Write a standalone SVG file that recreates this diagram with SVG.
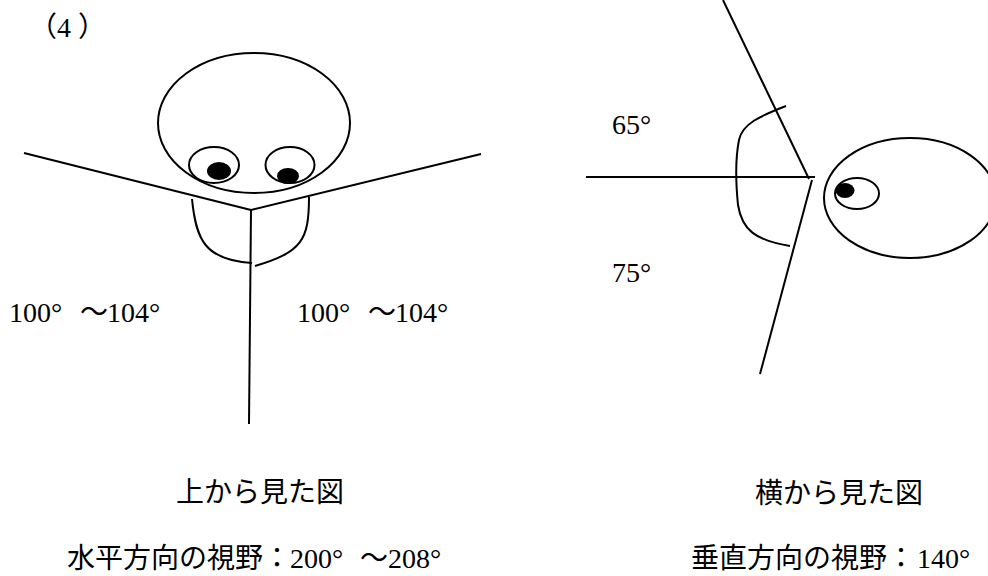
<svg xmlns="http://www.w3.org/2000/svg" width="988" height="576" viewBox="0 0 988 576">
  <style>
    .ln { fill: none; stroke: #000; stroke-width: 2; stroke-linecap: butt; }
    .dot { fill: #000; stroke: none; }
    .num { font-family: "Liberation Serif", "Noto Sans CJK JP", serif; font-size: 28px; fill: #000; }
    .jp { font-family: "Noto Sans CJK JP", "Liberation Serif", sans-serif; font-size: 28px; fill: #000; }
    .lat { font-family: "Liberation Serif", serif; }
  </style>
  <rect width="988" height="576" fill="#fff"/>

  <text class="num" y="37" font-size="25"><tspan x="29">（</tspan><tspan x="57">4</tspan><tspan x="78">）</tspan></text>

  <!-- view from above -->
  <g id="top-view">
    <g id="top-head">
      <ellipse class="ln" cx="254" cy="123" rx="96" ry="70"/>
      <ellipse class="ln" cx="214" cy="165" rx="25" ry="18"/>
      <ellipse class="dot" cx="219" cy="171" rx="12" ry="9"/>
      <ellipse class="ln" cx="290" cy="165" rx="24.5" ry="18"/>
      <ellipse class="dot" cx="288" cy="176" rx="11" ry="8"/>
      <path class="ln" d="M192,199 C196,240 205,260 252,263"/>
      <path class="ln" d="M309,197 C309,240 302,252 255,266"/>
    </g>
    <g id="top-lines">
      <line class="ln" x1="24" y1="153" x2="251" y2="210"/>
      <line class="ln" x1="251" y1="210" x2="481" y2="154"/>
      <line class="ln" x1="251" y1="210" x2="249" y2="424"/>
    </g>
    <text class="num" y="322"><tspan x="9">100°</tspan><tspan x="80">～</tspan><tspan x="107">104°</tspan></text>
    <text class="num" y="322"><tspan x="297">100°</tspan><tspan x="368">～</tspan><tspan x="395">104°</tspan></text>
    <text class="jp" x="176" y="502">上から見た図</text>
    <text class="jp" y="568"><tspan x="67">水平方向の視野：</tspan><tspan class="lat" x="290">200°</tspan><tspan x="360">～</tspan><tspan class="lat" x="388">208°</tspan></text>
  </g>

  <!-- view from the side -->
  <g id="side-view">
    <g id="side-head">
      <ellipse class="ln" cx="910" cy="198" rx="86" ry="60"/>
      <ellipse class="ln" cx="857" cy="193.5" rx="22" ry="15.5"/>
      <ellipse class="dot" cx="845" cy="190.5" rx="9.5" ry="7.5"/>
      <path class="ln" d="M786,106 C760,116 742,124 739,140 C735,160 736,185 738,205 C742,230 755,240 790,246"/>
    </g>
    <g id="side-lines">
      <line class="ln" x1="723" y1="0" x2="809" y2="179"/>
      <line class="ln" x1="586" y1="177" x2="815" y2="177"/>
      <line class="ln" x1="812" y1="180" x2="760" y2="374"/>
    </g>
    <text class="num" x="612" y="134">65°</text>
    <text class="num" x="612" y="282">75°</text>
    <text class="jp" x="755" y="503">横から見た図</text>
    <text class="jp" y="568"><tspan x="691">垂直方向の視野：</tspan><tspan class="lat" x="917">140°</tspan></text>
  </g>
</svg>
